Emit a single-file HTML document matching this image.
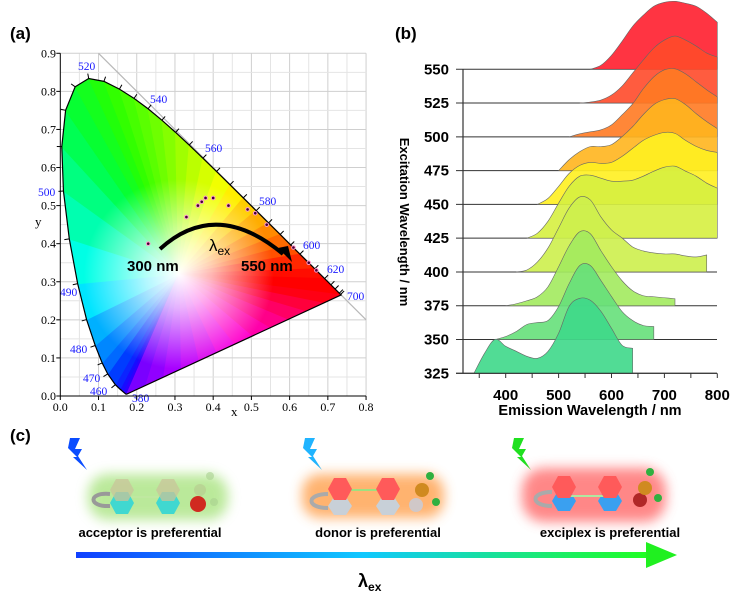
<!DOCTYPE html>
<html><head><meta charset="utf-8"><style>
html,body{margin:0;padding:0;background:#fff;}
svg{display:block;font-family:"Liberation Sans",sans-serif;}
</style></head><body>
<svg id="fig" width="733" height="599" viewBox="0 0 733 599">
<defs>
<radialGradient id="whiteGlow" cx="0.5" cy="0.5" r="0.5">
<stop offset="0" stop-color="#fff" stop-opacity="1"/>
<stop offset="0.35" stop-color="#fff" stop-opacity="0.7"/>
<stop offset="1" stop-color="#fff" stop-opacity="0"/>
</radialGradient>
<linearGradient id="lamGrad" x1="0" x2="1" y1="0" y2="0">
<stop offset="0" stop-color="#1040ff"/><stop offset="0.5" stop-color="#10c8ff"/><stop offset="1" stop-color="#20ff20"/>
</linearGradient>
<filter id="blur6" x="-50%" y="-50%" width="200%" height="200%"><feGaussianBlur stdDeviation="6"/></filter>
<filter id="blur1" x="-50%" y="-50%" width="200%" height="200%"><feGaussianBlur stdDeviation="0.8"/></filter>
<clipPath id="locusClip"><path id="locusClipPath" d=""/></clipPath>
</defs>
<g id="panelA"></g>
<g id="panelB"></g>
<g id="panelC">
<text x="10" y="441" font-size="17" font-weight="bold">(c)</text>
<polygon points="70,438 80,438 75,449 82,449 78,456 87,470 73,457 77,457 68,448" fill="#0a4cff"/>
<polygon points="305,438 315,438 310,449 317,449 313,456 322,470 308,457 312,457 303,448" fill="#20b4ff"/>
<polygon points="514,438 524,438 519,449 526,449 522,456 531,470 517,457 521,457 512,448" fill="#20e020"/>
<g>
<rect x="88" y="474" width="140" height="46" rx="20" fill="#9ee070" opacity="0.7" filter="url(#blur6)"/>
<path d="M110,494 C88,492 88,507 110,506" stroke="#999" stroke-width="4" fill="none"/>
<line x1="122" y1="497" x2="168" y2="497" stroke="#bfe8a0" stroke-width="2"/>
<polygon points="110,503 116,492 128,492 134,503 128,514 116,514" fill="#40d8d0"/>
<polygon points="156,503 162,492 174,492 180,503 174,514 162,514" fill="#40d8d0"/>
<polygon points="110,490 116,479 128,479 134,490 128,501 116,501" fill="#c8c49a" opacity="0.75"/>
<polygon points="156,490 162,479 174,479 180,490 174,501 162,501" fill="#c8c49a" opacity="0.75"/>
<circle cx="198" cy="504" r="8" fill="#d02a20"/>
<circle cx="200" cy="490" r="6" fill="#b8c890" opacity="0.6"/>
<circle cx="210" cy="476" r="4" fill="#a8d090" opacity="0.6"/>
<circle cx="214" cy="502" r="4" fill="#a8d090" opacity="0.6"/>
</g>
<g>
<rect x="302" y="474" width="142" height="44" rx="18" fill="#ff9a40" opacity="0.75" filter="url(#blur6)"/>
<path d="M328,494 C306,494 306,508 328,508" stroke="#aaa" stroke-width="4" fill="none"/>
<polygon points="328,506 334,497 346,497 352,506 346,515 334,515" fill="#c8d0d8"/>
<polygon points="376,506 382,497 394,497 400,506 394,515 382,515" fill="#c8d0d8"/>
<line x1="340" y1="490" x2="388" y2="490" stroke="#9ee080" stroke-width="2"/>
<polygon points="328,489 334,478 346,478 352,489 346,500 334,500" fill="#ff5a5a"/>
<polygon points="376,489 382,478 394,478 400,489 394,500 382,500" fill="#ff5a5a"/>
<circle cx="416" cy="505" r="7" fill="#d0c8c8"/>
<circle cx="422" cy="490" r="7" fill="#d08a20"/>
<circle cx="430" cy="476" r="4" fill="#30b040"/>
<circle cx="436" cy="502" r="4" fill="#30b040"/>
</g>
<g>
<rect x="522" y="468" width="144" height="54" rx="22" fill="#ff6060" opacity="0.75" filter="url(#blur6)"/>
<path d="M552,492 C530,492 530,506 552,506" stroke="#aaa" stroke-width="4" fill="none"/>
<polygon points="552,501 558,491 570,491 576,501 570,511 558,511" fill="#3aa0f0"/>
<polygon points="598,501 604,491 616,491 622,501 616,511 604,511" fill="#3aa0f0"/>
<line x1="564" y1="496" x2="610" y2="496" stroke="#b0e8a0" stroke-width="2"/>
<polygon points="552,487 558,476 570,476 576,487 570,498 558,498" fill="#ff5a5a"/>
<polygon points="598,487 604,476 616,476 622,487 616,498 604,498" fill="#ff5a5a"/>
<circle cx="640" cy="500" r="7" fill="#b02828"/>
<circle cx="645" cy="488" r="7" fill="#d08a20"/>
<circle cx="650" cy="472" r="4" fill="#30b040"/>
<circle cx="658" cy="498" r="4" fill="#30b040"/>
</g>
<text x="150" y="537" font-size="13" font-weight="bold" text-anchor="middle">acceptor is preferential</text>
<text x="378" y="537" font-size="13" font-weight="bold" text-anchor="middle">donor is preferential</text>
<text x="610" y="537" font-size="13" font-weight="bold" text-anchor="middle">exciplex is preferential</text>
<rect x="76" y="552" width="574" height="6" fill="url(#lamGrad)"/>
<polygon points="646,542 677,555 646,568" fill="#20f020"/>
<text x="358" y="587" font-size="18" font-weight="bold">λ<tspan font-size="12" dy="4">ex</tspan></text>
</g>
</svg>
<script>
// ---------- CIE data ----------
const locusWl = [380,400,420,440,450,460,470,475,480,485,490,495,500,505,510,515,520,525,530,535,540,545,550,555,560,565,570,575,580,585,590,595,600,610,620,630,640,660,680,700];
const locusX = [0.1741,0.1733,0.1714,0.1644,0.1566,0.1440,0.1241,0.1096,0.0913,0.0687,0.0454,0.0235,0.0082,0.0039,0.0139,0.0389,0.0743,0.1142,0.1547,0.1929,0.2296,0.2658,0.3016,0.3373,0.3731,0.4087,0.4441,0.4788,0.5125,0.5448,0.5752,0.6029,0.6270,0.6658,0.6915,0.7079,0.7190,0.7300,0.7334,0.7347];
const locusY = [0.0050,0.0048,0.0051,0.0109,0.0177,0.0297,0.0578,0.0868,0.1327,0.2007,0.2950,0.4127,0.5384,0.6548,0.7502,0.8120,0.8338,0.8262,0.8059,0.7816,0.7543,0.7243,0.6923,0.6589,0.6245,0.5896,0.5547,0.5202,0.4866,0.4544,0.4242,0.3965,0.3725,0.3340,0.3083,0.2920,0.2809,0.2700,0.2666,0.2653];
const pointX = [0.23,0.33,0.36,0.37,0.38,0.40,0.44,0.49,0.51,0.54,0.61,0.65,0.67];
const pointY = [0.40,0.47,0.50,0.51,0.52,0.52,0.50,0.49,0.48,0.45,0.39,0.35,0.33];
const wlLabels = [380,460,470,480,490,500,520,540,560,580,600,620,700];
const axisTicksX = ['0.0','0.1','0.2','0.3','0.4','0.5','0.6','0.7','0.8'];
const axisTicksY = ['0.0','0.1','0.2','0.3','0.4','0.5','0.6','0.7','0.8','0.9'];

// ---------- Ridge data ----------
const excitation = [325,350,375,400,425,450,475,500,525,550];
const emGrid = [340,360,380,400,420,440,460,480,500,520,540,560,580,600,620,640,660,680,700,720,740,760,780,800];
const s325 = [0,.2,.34,.27,.22,.17,.15,.22,.4,.67,.75,.73,.62,.45,.28,.25,null,null,null,null,null,null,null,null];
const s350 = [null,null,0,.03,.08,.15,.17,.19,.33,.56,.74,.74,.59,.43,.28,.19,.14,.13,null,null,null,null,null,null];
const s375 = [null,null,null,0,.02,.05,.09,.19,.39,.6,.74,.72,.55,.39,.25,.15,.1,.09,.08,.07,null,null,null,null];
const s400 = [null,null,null,null,0,.02,.1,.24,.44,.64,.75,.72,.55,.42,.34,.25,.21,.19,.18,.18,.16,.15,.17,null];
const s425 = [null,null,null,null,null,0,.05,.17,.35,.52,.62,.63,.6,.57,.57,.58,.62,.67,.71,.72,.67,.62,.55,.5];
const s450 = [null,null,null,null,null,null,0,.06,.18,.31,.39,.42,.41,.42,.48,.56,.64,.69,.72,.71,.64,.58,.54,.52];
const s475 = [null,null,null,null,null,null,null,null,0,.11,.19,.24,.24,.26,.34,.44,.56,.66,.71,.72,.66,.57,.49,.42];
const s500 = [null,null,null,null,null,null,null,null,null,0,.03,.05,.07,.12,.22,.33,.48,.6,.67,.68,.63,.55,.47,.4];
const s525 = [null,null,null,null,null,null,null,null,null,null,0,.01,.03,.08,.17,.3,.43,.55,.63,.67,.63,.57,.5,.46];
const s550 = [null,null,null,null,null,null,null,null,null,null,null,0,.04,.14,.28,.43,.54,.63,.67,.68,.66,.63,.56,.47];
const seriesList = [s325,s350,s375,s400,s425,s450,s475,s500,s525,s550];
const seriesColors = ['#3ed88a','#66e07a','#a2ea5e','#cdf04c','#d6f040','#fff020','#ffb51e','#ff7a22','#ff4a2a','#ff1e2e'];
const emTicks = [400,500,600,700,800];

const NS='http://www.w3.org/2000/svg';
function mk(tag, attrs, parent){const e=document.createElementNS(NS,tag);for(const k in attrs)e.setAttribute(k,attrs[k]);parent.appendChild(e);return e;}

// ---------- Panel A ----------
const A=document.getElementById('panelA');
const cx=v=>60.3+v*382.2, cy=v=>396-v*380.8;
let t=mk('text',{x:10,y:39,'font-size':17,'font-weight':'bold'},A);t.textContent='(a)';


for(let i=1;i<=16;i++){const v=i*0.05;let l=mk('line',{x1:cx(v),y1:cy(0),x2:cx(v),y2:cy(0.9),stroke:i%2?'#e4e4e4':'#cfcfcf','stroke-width':1},A);

}
for(let i=1;i<=18;i++){const v=i*0.05;let l=mk('line',{x1:cx(0),y1:cy(v),x2:cx(0.8),y2:cy(v),stroke:i%2?'#e4e4e4':'#cfcfcf','stroke-width':1},A);

}
let diag=mk('line',{x1:cx(0.1),y1:cy(0.9),x2:cx(0.8),y2:cy(0.2),stroke:'#b8b8b8','stroke-width':1.2},A);


function wlColor(w){
 const stops=[[380,[110,0,255]],[440,[30,0,255]],[465,[0,60,255]],[480,[0,150,255]],[490,[0,255,255]],[500,[0,255,150]],[510,[0,255,60]],[525,[40,255,0]],[545,[120,255,0]],[560,[200,255,0]],[570,[255,255,0]],[580,[255,190,0]],[590,[255,120,0]],[605,[255,40,0]],[620,[255,0,0]],[700,[255,0,0]]];
 for(let i=0;i<stops.length-1;i++){if(w<=stops[i+1][0]){const f=(w-stops[i][0])/(stops[i+1][0]-stops[i][0]);const c=stops[i][1].map((v,j)=>Math.round(v+(stops[i+1][1][j]-v)*f));return 'rgb('+c+')';}}
 return 'rgb(255,0,0)';}
const wx=0.31, wy=0.32;
const fillG=mk('g',{'clip-path':'url(#locusClip)'},A);


for(let i=0;i<locusWl.length-1;i++){
 const c=wlColor((locusWl[i]+locusWl[i+1])/2);
 mk('polygon',{points:`${cx(wx)},${cy(wy)} ${cx(locusX[i])},${cy(locusY[i])} ${cx(locusX[i+1])},${cy(locusY[i+1])}`,fill:c,stroke:c,'stroke-width':1},fillG);}
const purple=[[255,0,0],[255,0,120],[255,0,220],[180,0,255],[110,0,255]];
const n=locusWl.length-1;
for(let k=0;k<12;k++){
 const f0=k/12,f1=(k+1)/12;
 const x0=locusX[n]+(locusX[0]-locusX[n])*f0,y0=locusY[n]+(locusY[0]-locusY[n])*f0;
 const x1=locusX[n]+(locusX[0]-locusX[n])*f1,y1=locusY[n]+(locusY[0]-locusY[n])*f1;
 const p=(f0+f1)/2*4,pi=Math.min(3,Math.floor(p)),pf=p-pi;
 const c='rgb('+purple[pi].map((v,j)=>Math.round(v+(purple[pi+1][j]-v)*pf))+')';
 mk('polygon',{points:`${cx(wx)},${cy(wy)} ${cx(x0)},${cy(y0)} ${cx(x1)},${cy(y1)}`,fill:c,stroke:c,'stroke-width':1},fillG);}
mk('ellipse',{cx:cx(wx),cy:cy(wy),rx:95,ry:95,fill:'url(#whiteGlow)'},fillG);
let d='M'+locusWl.map((w,i)=>cx(locusX[i])+','+cy(locusY[i])).join(' L')+' Z';
document.getElementById('locusClipPath').setAttribute('d',d);
let loc=mk('path',{d:d,fill:'none',stroke:'#000','stroke-width':1.2},A);


// locus ticks
for(let i=1;i<locusWl.length-1;i++){
 if(locusWl[i]<460) continue;
 const dx=cx(locusX[i+1])-cx(locusX[i-1]),dy=cy(locusY[i+1])-cy(locusY[i-1]),L=Math.hypot(dx,dy);
 const nx=dy/L*-1,ny=-dx/L*-1;
 const px=cx(locusX[i]),py=cy(locusY[i]);
 let tk=mk('line',{x1:px,y1:py,x2:px-nx*5,y2:py-ny*5,stroke:'#000','stroke-width':1},A);
 
 }
// wavelength labels
const lblPos={380:[132,402],460:[90,395],470:[83,382],480:[70,353],490:[60,296],500:[38,196],520:[78,70],540:[150,103],560:[205,152],580:[259,205],600:[303,249],620:[327,273],700:[347,300]};
wlLabels.forEach(w=>{let tx=mk('text',{x:lblPos[w][0],y:lblPos[w][1],'font-size':11.5,fill:'#1a1aff','font-family':'Liberation Serif, serif'},A);tx.textContent=w;

});
// axes
let ax=mk('path',{d:`M${cx(0)},${cy(0.9)} V${cy(0)} H${cx(0.8)}`,fill:'none',stroke:'#000','stroke-width':1},A);


axisTicksX.forEach((s,i)=>{const x=cx(i*0.1);mk('line',{x1:x,y1:cy(0),x2:x,y2:cy(0)+4,stroke:'#000'},A);
 let tx=mk('text',{x:x,y:411,'font-size':12,'text-anchor':'middle','font-family':'Liberation Serif, serif'},A);tx.textContent=s;
 
 });
axisTicksY.forEach((s,i)=>{const y=cy(i*0.1);mk('line',{x1:cx(0)-4,y1:y,x2:cx(0),y2:y,stroke:'#000'},A);
 let tx=mk('text',{x:56,y:y+4,'font-size':12,'text-anchor':'end','font-family':'Liberation Serif, serif'},A);tx.textContent=s;
 
 });
t=mk('text',{x:231,y:416,'font-size':13,'font-family':'Liberation Serif, serif'},A);t.textContent='x';


t=mk('text',{x:35,y:226,'font-size':13,'font-family':'Liberation Serif, serif'},A);t.textContent='y';


pointX.forEach((x,i)=>{let c=mk('circle',{cx:cx(x),cy:cy(pointY[i]),r:1.8,fill:'#400030',stroke:'#ff9ad0','stroke-width':1},A);
 
 });
let arc=mk('path',{d:'M160,249 Q216,198 283,254',fill:'none',stroke:'#000','stroke-width':4},A);


mk('polygon',{points:'278,248 292,262 288,246',fill:'#000'},A);
t=mk('text',{x:209,y:251,'font-size':17},A);t.innerHTML='λ<tspan font-size="12" dy="4">ex</tspan>';


t=mk('text',{x:127,y:271,'font-size':15,'font-weight':'bold'},A);t.textContent='300 nm';


t=mk('text',{x:241,y:271,'font-size':15,'font-weight':'bold'},A);t.textContent='550 nm';



// ---------- Panel B ----------
const B=document.getElementById('panelB');
const bx=w=>505.7+(w-400)*0.529;
const base=i=>373.3-i*33.78;
const amp=100;
t=mk('text',{x:395,y:39,'font-size':17,'font-weight':'bold'},B);t.textContent='(b)';


excitation.forEach((e,i)=>{let l=mk('line',{x1:456,y1:base(i),x2:717,y2:base(i),stroke:'#333','stroke-width':1},B);
 
 
 let tx=mk('text',{x:449,y:base(i)+5,'font-size':15,'font-weight':'bold','text-anchor':'end'},B);tx.textContent=e;
 
 });
function smoothPath(pts){let s='';for(let i=0;i<pts.length-1;i++){const p0=pts[Math.max(0,i-1)],p1=pts[i],p2=pts[i+1],p3=pts[Math.min(pts.length-1,i+2)];
 const c1x=p1[0]+(p2[0]-p0[0])/6,c1y=p1[1]+(p2[1]-p0[1])/6,c2x=p2[0]-(p3[0]-p1[0])/6,c2y=p2[1]-(p3[1]-p1[1])/6;
 s+=` C${c1x},${c1y} ${c2x},${c2y} ${p2[0]},${p2[1]}`;}return s;}
for(let i=seriesList.length-1;i>=0;i--){
 const vals=seriesList[i];const pts=[];
 vals.forEach((v,j)=>{if(v!==null)pts.push([bx(emGrid[j]),base(i)-v*amp]);});
 const b=base(i);
 const dd=`M${pts[0][0]},${b} L${pts[0][0]},${pts[0][1]}`+smoothPath(pts)+` L${pts[pts.length-1][0]},${b} Z`;
 let p=mk('path',{d:dd,fill:seriesColors[i],'fill-opacity':0.9,stroke:'#666','stroke-width':0.6},B);
 
 }
let bax=mk('path',{d:`M463,${base(excitation.length-1)} V373.3 M456,373.3 H717`,stroke:'#333','stroke-width':1.2,fill:'none'},B);


for(let w=350;w<=800;w+=50){mk('line',{x1:bx(w),y1:373.3,x2:bx(w),y2:378,stroke:'#333'},B);}
emTicks.forEach(w=>{let tx=mk('text',{x:bx(w),y:400,'font-size':15,'font-weight':'bold','text-anchor':'middle'},B);tx.textContent=w;
 
 });
t=mk('text',{x:590,y:415,'font-size':14.5,'font-weight':'bold','text-anchor':'middle'},B);t.textContent='Emission Wavelength / nm';


t=mk('text',{x:0,y:0,'font-size':13,'font-weight':'bold','text-anchor':'middle',transform:'translate(400,222) rotate(90)'},B);t.textContent='Excitation Wavelength / nm';


</script>
</body></html>
